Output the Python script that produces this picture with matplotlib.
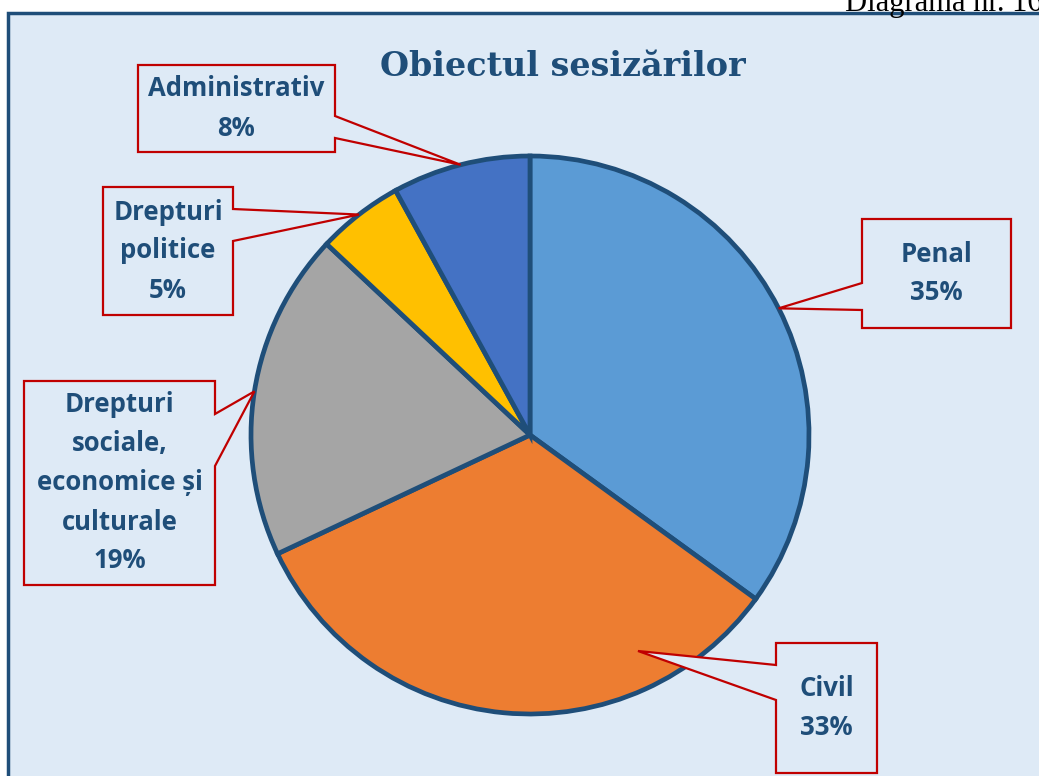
import matplotlib
matplotlib.use("Agg")
import matplotlib.pyplot as plt
import matplotlib.patches as mpatches
import numpy as np

# ---- data ----
categories = ["Penal", "Civil", "Drepturi sociale, economice și culturale",
              "Drepturi politice", "Administrativ"]
values = [35, 33, 19, 5, 8]
label_lines = [["Penal", "35%"],
               ["Civil", "33%"],
               ["Drepturi", "sociale,", "economice și", "culturale", "19%"],
               ["Drepturi", "politice", "5%"],
               ["Administrativ", "8%"]]
colors = ["#5B9BD5", "#ED7D31", "#A5A5A5", "#FFC000", "#4472C4"]
title = "Obiectul sesizărilor"
caption = "Diagrama nr. 16"

W, H = 1039, 776
fig = plt.figure(figsize=(W / 100, H / 100), dpi=100)
ax = fig.add_axes([0, 0, 1, 1])

def Y(y):
    return H - y

BG = "#DEEAF6"
NAVY = "#1F4E79"
RED = "#C00000"

# panel
ax.add_patch(mpatches.Rectangle((8, Y(790)), 1050, 777, facecolor=BG,
                                edgecolor=NAVY, lw=2.5, zorder=0))

# pie
cx, cy, R = 530, 435, 279
wedges, _ = ax.pie(values, colors=colors, startangle=90, counterclock=False,
                   center=(cx, Y(cy)), radius=R,
                   explode=[0.008, 0, 0, 0, 0],
                   wedgeprops=dict(edgecolor=NAVY, linewidth=3.4, zorder=2))

# callouts: box (x0, x1, top, bottom), pointer side, base (b1, b2)
boxes = [(862, 1011, 219, 328, "left", 283, 310),
         (776, 877, 643, 773, "left", 665, 700),
         (24, 215, 381, 585, "right", 414, 466),
         (103, 233, 187, 315, "right", 209, 241),
         (138, 335, 65, 152, "right", 116, 138)]

def tip_for(i):
    w = wedges[i]
    if i == 1:
        return (638, 651)
    th = np.deg2rad((w.theta1 + w.theta2) / 2)
    x = w.center[0] + w.r * np.cos(th)
    y = w.center[1] + w.r * np.sin(th)
    return (x, H - y)

for i, (x0, x1, yt, yb, side, b1, b2) in enumerate(boxes):
    tx, ty = tip_for(i)
    if side == "right":
        pts = [(x0, yt), (x1, yt), (x1, b1), (tx, ty), (x1, b2), (x1, yb), (x0, yb)]
    else:
        pts = [(x0, yt), (x1, yt), (x1, yb), (x0, yb), (x0, b2), (tx, ty), (x0, b1)]
    ax.add_patch(mpatches.Polygon([(px, Y(py)) for px, py in pts], closed=True,
                                  facecolor=BG, edgecolor=RED, lw=1.6, zorder=3,
                                  joinstyle="miter"))
    lines = label_lines[i]
    n = len(lines)
    step = 39
    ymid = (yt + yb) / 2
    xc = (x0 + x1) / 2
    for k, s in enumerate(lines):
        yy = ymid + (k - (n - 1) / 2) * step
        ax.text(xc, Y(yy), s, ha="center", va="center", fontsize=18.5,
                fontweight="bold", family="Open Sans", color=NAVY, zorder=4)

# title
ax.text(563, Y(66), title, ha="center", va="center", fontsize=24,
        fontweight="bold", family="DejaVu Serif", color=NAVY, zorder=4)

# caption (cut at the top as in the reference)
ax.text(845, Y(11), caption, ha="left", va="baseline", fontsize=22,
        family="Liberation Serif", color="black", zorder=4)

ax.set_xlim(0, W)
ax.set_ylim(0, H)
ax.set_aspect("equal")
ax.axis("off")
fig.savefig("out.png", dpi=100, facecolor="white")
